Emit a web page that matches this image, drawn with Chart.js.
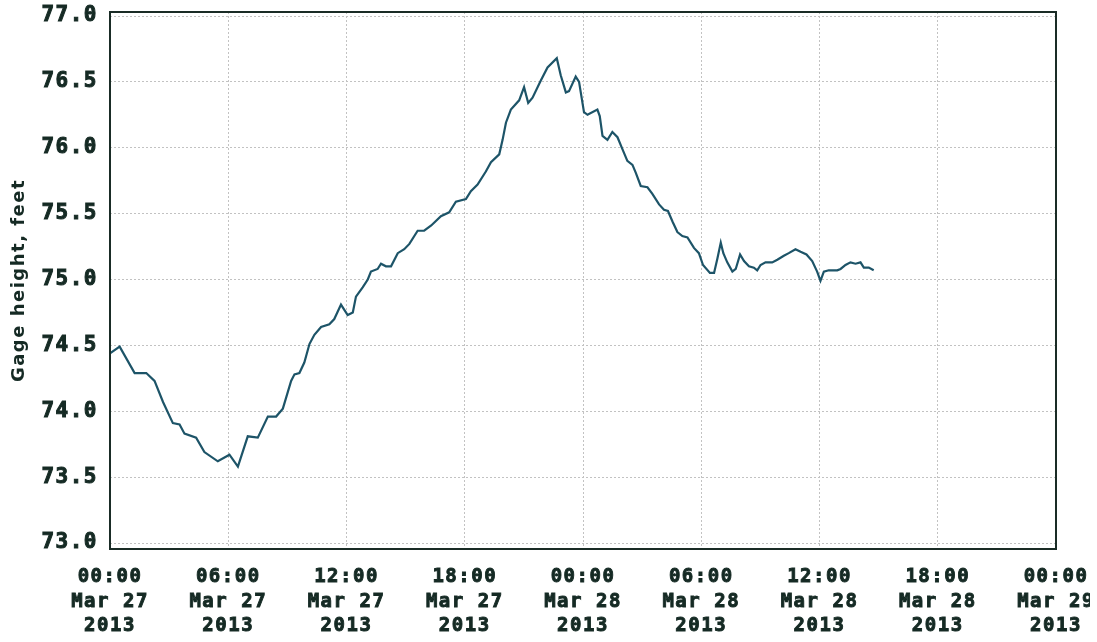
<!DOCTYPE html>
<html>
<head>
<meta charset="utf-8">
<script src="https://cdn.jsdelivr.net/npm/chart.js@4.4.1/dist/chart.umd.min.js"></script>
<style>
  html, body { margin: 0; padding: 0; background: #ffffff; }
  #wrap { width: 1090px; height: 642px; position: relative; }
</style>
</head>
<body>
<div id="wrap"><canvas id="c"></canvas></div>
<script>
// Gage height readings, hours since 2013-03-27 00:00
const hours = [
  0.0, 0.49, 1.25, 1.84, 2.26, 2.69, 3.19, 3.53, 3.78, 4.37, 4.79, 5.47, 6.06, 6.49, 6.99, 7.5,
  8.01, 8.43, 8.77, 9.19, 9.36, 9.61, 9.86, 10.12, 10.37, 10.71, 11.13, 11.38, 11.72, 11.89, 12.06, 12.32,
  12.48, 12.82, 13.08, 13.24, 13.58, 13.75, 14.0, 14.26, 14.6, 14.93, 15.19, 15.61, 15.94, 16.3, 16.79, 17.21,
  17.55, 18.06, 18.31, 18.65, 19.07, 19.33, 19.75, 19.92, 20.09, 20.34, 20.76, 21.01, 21.22, 21.44, 21.86, 22.2,
  22.67, 22.87, 23.13, 23.29, 23.63, 23.8, 24.05, 24.23, 24.73, 24.85, 24.99, 25.24, 25.49, 25.75, 26.0, 26.25,
  26.51, 26.68, 26.93, 27.27, 27.52, 27.86, 28.11, 28.31, 28.54, 28.79, 29.04, 29.3, 29.63, 29.88, 30.09, 30.44,
  30.65, 30.82, 30.99, 31.12, 31.32, 31.58, 31.75, 31.97, 32.17, 32.42, 32.67, 32.84, 33.01, 33.26, 33.6, 33.86,
  34.19, 34.44, 34.78, 35.04, 35.34, 35.63, 35.88, 36.05, 36.22, 36.47, 36.9, 37.07, 37.32, 37.57, 37.83, 38.08,
  38.25, 38.5, 38.75
];
const gageFeet = [
  74.44, 74.49, 74.29, 74.29, 74.23, 74.07, 73.91, 73.90, 73.83, 73.80, 73.69, 73.62, 73.67, 73.58, 73.81, 73.80,
  73.96, 73.96, 74.02, 74.23, 74.28, 74.29, 74.37, 74.51, 74.58, 74.64, 74.66, 74.70, 74.81, 74.77, 74.73, 74.75,
  74.87, 74.94, 75.00, 75.06, 75.08, 75.12, 75.10, 75.10, 75.20, 75.23, 75.27, 75.37, 75.37, 75.41, 75.48, 75.51,
  75.59, 75.61, 75.67, 75.72, 75.82, 75.89, 75.95, 76.06, 76.19, 76.29, 76.36, 76.46, 76.34, 76.38, 76.51, 76.61,
  76.68, 76.55, 76.42, 76.43, 76.54, 76.50, 76.27, 76.25, 76.29, 76.24, 76.09, 76.06, 76.12, 76.08, 75.99, 75.90,
  75.87, 75.81, 75.71, 75.70, 75.65, 75.57, 75.53, 75.52, 75.44, 75.36, 75.33, 75.32, 75.24, 75.20, 75.11, 75.05,
  75.05, 75.16, 75.28, 75.20, 75.13, 75.06, 75.08, 75.19, 75.14, 75.10, 75.09, 75.07, 75.11, 75.13, 75.13, 75.15,
  75.18, 75.20, 75.23, 75.21, 75.19, 75.14, 75.06, 74.99, 75.06, 75.07, 75.07, 75.08, 75.11, 75.13, 75.12, 75.13,
  75.09, 75.09, 75.07
];

// Axis ticks
const tickHours = [0, 6, 12, 18, 24, 30, 36, 42, 48];
const tickTimes = ['00:00', '06:00', '12:00', '18:00', '00:00', '06:00', '12:00', '18:00', '00:00'];
const tickDates = ['Mar 27', 'Mar 27', 'Mar 27', 'Mar 27', 'Mar 28', 'Mar 28', 'Mar 28', 'Mar 28', 'Mar 29'];
const tickYears = ['2013', '2013', '2013', '2013', '2013', '2013', '2013', '2013', '2013'];
const yTicks = [73.0, 73.5, 74.0, 74.5, 75.0, 75.5, 76.0, 76.5, 77.0];

const textColor = '#152a24';
const monoFont = "'DejaVu Sans Mono', 'Liberation Mono', monospace";

// Spaced-out lettering for all canvas text
const spacingPlugin = {
  id: 'spacing',
  beforeDraw(chart) { chart.ctx.letterSpacing = '1.5px'; }
};

// Dark frame round the plot area
const framePlugin = {
  id: 'frame',
  afterDraw(chart) {
    const a = chart.chartArea, ctx = chart.ctx;
    ctx.save();
    ctx.strokeStyle = '#1a2c26';
    ctx.lineWidth = 2;
    ctx.strokeRect(a.left, a.top, a.right - a.left, a.bottom - a.top);
    ctx.restore();
  }
};

new Chart(document.getElementById('c'), {
  type: 'line',
  data: {
    datasets: [{
      data: hours.map((h, i) => ({ x: h, y: gageFeet[i] })),
      borderColor: '#1d5468',
      borderWidth: 2.2,
      pointRadius: 0,
      tension: 0,
      fill: false
    }]
  },
  options: {
    responsive: true,
    maintainAspectRatio: false,
    animation: false,
    events: [],
    layout: { padding: { top: 12, right: 34, left: 0, bottom: 0 } },
    plugins: { legend: { display: false }, tooltip: { enabled: false } },
    scales: {
      x: {
        type: 'linear',
        min: 0,
        max: 48,
        afterBuildTicks(scale) { scale.ticks = tickHours.map(v => ({ value: v })); },
        afterFit(scale) { scale.height = 93; scale.paddingLeft = 0; scale.paddingRight = 0; },
        grid: { color: '#c2c2c2', lineWidth: 1, drawTicks: false },
        border: { display: false, dash: [2, 2] },
        ticks: {
          autoSkip: false,
          maxRotation: 0,
          minRotation: 0,
          padding: 16,
          color: textColor,
          textStrokeColor: textColor,
          textStrokeWidth: 0.9,
          font: { family: monoFont, size: 19, weight: 'bold', lineHeight: 1.29 },
          callback(value, index) { return [tickTimes[index], tickDates[index], tickYears[index]]; }
        }
      },
      y: {
        type: 'linear',
        min: 72.9545,
        max: 77.0304,
        afterBuildTicks(scale) { scale.ticks = yTicks.map(v => ({ value: v })); },
        afterFit(scale) { scale.width = 110; scale.paddingTop = 0; scale.paddingBottom = 0; },
        grid: { color: '#c2c2c2', lineWidth: 1, drawTicks: false },
        border: { display: false, dash: [2, 2] },
        ticks: {
          padding: 12,
          color: textColor,
          textStrokeColor: textColor,
          textStrokeWidth: 1,
          font: { family: monoFont, size: 21, weight: 'bold' },
          callback(value) { return Number(value).toFixed(1); }
        },
        title: {
          display: true,
          text: 'Gage height, feet',
          color: textColor,
          font: { family: "'DejaVu Sans', sans-serif", size: 18, weight: 'bold' },
          padding: { top: 9, bottom: 0 }
        }
      }
    }
  },
  plugins: [spacingPlugin, framePlugin]
});
</script>
</body>
</html>
